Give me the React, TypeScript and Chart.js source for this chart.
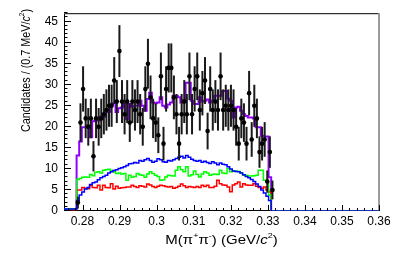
import { useEffect, useRef } from 'react';
import { Chart, registerables } from 'chart.js';

Chart.register(...registerables);

const FONT = "'Liberation Sans', Arial, Helvetica, sans-serif";

// Axis ranges and tick labels
const xMin = 0.275;
const xMax = 0.36;
const yMin = 0;
const yMax = 47;
const xTicks = [0.28, 0.29, 0.3, 0.31, 0.32, 0.33, 0.34, 0.35, 0.36];
const yTicks = [0, 5, 10, 15, 20, 25, 30, 35, 40, 45];

// Binning (0.7 MeV/c^2 bins)
const binLow = 0.2784;
const binWidth = 0.0007;

// Data: candidates per bin
const dataCounts = [
  2, 21, 29, 22, 20, 22, 13, 22, 20, 22,
  23, 24, 25, 25, 31, 26, 38, 26, 23, 26,
  21, 26, 24, 26, 23, 20, 29, 35, 27, 22,
  21, 18, 32, 16, 29, 34, 34, 27, 23, 16,
  23, 26, 23, 32, 23, 29, 32, 24, 28, 31,
  19, 29, 24, 26, 24, 32, 24, 25, 24, 25,
  24, 20, 16, 22, 21, 16, 28, 17, 25, 22,
  14, 16, 17, 7, 14, 5,
];

// Total fit (purple)
const totalFit = [
  0.5, 13.2, 16.5, 19.9, 19.9, 20.3, 17.5, 21.3, 21.8, 21.5,
  22.4, 22.4, 23.5, 23.6, 25.4, 25.6, 23.5, 24.4, 24.6, 25.4,
  21.8, 25.4, 24.8, 25.0, 25.0, 26.2, 25.0, 23.8, 26.6, 28.1,
  25.8, 25.6, 25.8, 27.0, 25.0, 24.6, 25.3, 25.8, 27.4, 27.4,
  27.0, 25.8, 26.3, 30.5, 30.5, 26.2, 25.4, 25.4, 27.0, 26.0,
  26.2, 26.5, 25.8, 26.2, 27.4, 27.4, 27.4, 28.5, 28.5, 26.7,
  26.2, 22.2, 24.6, 24.8, 23.8, 23.0, 22.6, 22.2, 22.2, 22.0,
  19.9, 19.9, 17.9, 17.7, 17.7, 8.0,
];

// Blue component
const blueComp = [
  0.5, 2.5, 3.8, 4.5, 5.2, 5.6, 6.3, 6.7, 6.9, 7.4,
  7.9, 8.2, 8.5, 9.0, 9.3, 9.6, 9.8, 10.1, 10.3, 10.5,
  10.8, 11.2, 11.3, 11.5, 11.4, 12.0, 11.8, 12.2, 12.5, 12.0,
  11.6, 11.8, 12.4, 12.2, 11.7, 11.6, 12.0, 11.9, 12.2, 12.5,
  12.8, 13.0, 12.6, 13.2, 12.8, 12.3, 12.0, 11.8, 12.0, 11.6,
  11.8, 11.5, 11.3, 11.7, 11.4, 11.0, 11.4, 11.1, 11.0, 10.5,
  10.0, 9.5, 9.4, 9.3, 9.0, 8.6, 8.2, 7.9, 7.5, 7.0,
  6.4, 5.8, 5.0, 4.3, 3.5, 2.5,
];

// Green component
const greenComp = [
  0.5, 7.5, 7.7, 8.0, 8.1, 8.0, 8.7, 8.4, 9.2, 9.3,
  9.0, 9.7, 9.8, 9.9, 9.6, 9.3, 8.9, 9.0, 8.8, 8.9,
  7.3, 8.5, 8.0, 8.2, 8.9, 8.6, 8.5, 8.0, 8.8, 9.3,
  8.9, 8.5, 8.2, 7.3, 7.4, 8.1, 8.5, 8.4, 8.3, 9.7,
  10.5, 9.8, 9.3, 10.5, 8.3, 8.6, 9.5, 8.7, 8.1, 8.8,
  9.3, 9.0, 8.5, 8.7, 8.8, 8.7, 9.7, 9.0, 8.9, 10.1,
  9.3, 9.5, 9.5, 9.4, 9.0, 8.5, 8.5, 8.3, 8.3, 8.4,
  8.5, 9.7, 9.7, 7.3, 6.9, 3.8,
];

// Red component
const redComp = [
  0.3, 5.0, 5.0, 5.6, 5.4, 5.3, 6.1, 5.6, 5.5, 6.1,
  5.0, 6.1, 5.6, 5.5, 6.5, 5.2, 5.9, 5.4, 5.5, 5.6,
  5.7, 5.7, 6.1, 5.8, 5.6, 6.0, 5.9, 5.7, 6.4, 6.2,
  5.8, 5.6, 5.9, 6.1, 6.0, 5.8, 5.7, 5.8, 5.4, 5.6,
  5.9, 6.4, 6.0, 5.6, 5.8, 5.7, 5.6, 5.8, 5.6, 6.1,
  5.8, 6.1, 5.6, 5.6, 5.9, 7.3, 6.5, 6.2, 6.1, 5.7,
  4.6, 6.2, 6.5, 6.9, 5.7, 6.5, 6.2, 6.1, 6.1, 6.5,
  5.9, 5.6, 5.4, 5.7, 5.0, 4.5,
];

const binCenter = (i: number) => binLow + (i + 0.5) * binWidth;

function histPoints(vals: number[]) {
  const pts: { x: number; y: number }[] = [{ x: xMin, y: 0 }];
  vals.forEach((v, i) => pts.push({ x: binLow + i * binWidth, y: v }));
  pts.push({ x: binLow + vals.length * binWidth, y: 0 });
  pts.push({ x: xMax, y: 0 });
  return pts;
}

type Piece = { t: string; s: 'n' | 'i' | 'sup' };

function drawRich(ctx: CanvasRenderingContext2D, pieces: Piece[], size: number, align: 'center' | 'left') {
  const fontFor = (s: Piece['s']) =>
    s === 'i' ? `italic ${size}px ${FONT}` : s === 'sup' ? `${Math.round(size * 0.62)}px ${FONT}` : `${size}px ${FONT}`;
  let total = 0;
  const widths = pieces.map((p) => {
    ctx.font = fontFor(p.s);
    const w = ctx.measureText(p.t).width;
    total += w;
    return w;
  });
  let x = align === 'center' ? -total / 2 : 0;
  ctx.textAlign = 'left';
  ctx.textBaseline = 'alphabetic';
  pieces.forEach((p, k) => {
    ctx.font = fontFor(p.s);
    ctx.fillText(p.t, x, p.s === 'sup' ? -size * 0.42 : 0);
    x += widths[k];
  });
}

const xTitle: Piece[] = [
  { t: 'M(π', s: 'n' },
  { t: '+', s: 'sup' },
  { t: 'π', s: 'n' },
  { t: '-', s: 'sup' },
  { t: ') (GeV/', s: 'n' },
  { t: 'c', s: 'i' },
  { t: '2', s: 'sup' },
  { t: ')', s: 'n' },
];

const yTitle: Piece[] = [
  { t: 'Candidates / (0.7 MeV/', s: 'n' },
  { t: 'c', s: 'i' },
  { t: '2', s: 'sup' },
  { t: ')', s: 'n' },
];

const rootStyle = {
  id: 'rootStyle',
  beforeDatasetsDraw(chart: any) {
    const { ctx, chartArea: a } = chart;
    ctx.save();
    ctx.strokeStyle = '#000';
    ctx.lineWidth = 1;
    ctx.beginPath();
    ctx.moveTo(a.left + 0.5, a.bottom);
    ctx.lineTo(a.left + 0.5, a.top + 0.5);
    ctx.lineTo(a.right, a.top + 0.5);
    ctx.moveTo(a.left, a.bottom - 0.5);
    ctx.lineTo(a.right, a.bottom - 0.5);
    ctx.stroke();
    ctx.strokeStyle = '#9a9a9a';
    ctx.lineWidth = 2;
    ctx.beginPath();
    ctx.moveTo(a.right, a.top);
    ctx.lineTo(a.right, a.bottom);
    ctx.stroke();
    ctx.restore();
  },
  beforeDatasetDraw(chart: any, args: any) {
    if (args.index !== 0) return;
    const { ctx, scales } = chart;
    const xs = scales.x;
    const ys = scales.y;
    ctx.save();
    ctx.strokeStyle = '#1a1a1a';
    ctx.lineWidth = 2;
    dataCounts.forEach((v, i) => {
      const e = Math.sqrt(v);
      const px = xs.getPixelForValue(binCenter(i));
      ctx.beginPath();
      ctx.moveTo(px, ys.getPixelForValue(Math.max(0, v - e)));
      ctx.lineTo(px, ys.getPixelForValue(v + e));
      ctx.stroke();
    });
    ctx.restore();
  },
  afterDraw(chart: any) {
    const { ctx, chartArea: a, scales } = chart;
    const xs = scales.x;
    const ys = scales.y;
    ctx.save();
    ctx.strokeStyle = '#000';
    ctx.lineWidth = 1;
    ctx.beginPath();
    // y ticks (inside, pointing right)
    for (let v = 0; v <= yMax + 1e-9; v += 1) {
      const major = yTicks.includes(v);
      const py = Math.round(ys.getPixelForValue(v)) - 0.5;
      ctx.moveTo(a.left, py);
      ctx.lineTo(a.left + (major ? 7 : 3.5), py);
    }
    // x ticks (inside, pointing up)
    for (let k = 138; k <= 180; k++) {
      const v = k * 0.002;
      if (v < xMin - 1e-9 || v > xMax + 1e-9) continue;
      const major = k % 5 === 0;
      const px = Math.round(xs.getPixelForValue(v)) + 0.5;
      ctx.moveTo(px, a.bottom);
      ctx.lineTo(px, a.bottom - (major ? 6 : 3));
    }
    ctx.stroke();

    ctx.fillStyle = '#000';
    // x title
    ctx.save();
    ctx.translate((a.left + a.right) / 2, 244);
    ctx.scale(1, 0.9);
    drawRich(ctx, xTitle, 15, 'center');
    ctx.restore();
    // y title
    ctx.save();
    ctx.translate(29.5, 132);
    ctx.rotate(-Math.PI / 2);
    ctx.scale(0.8, 1);
    drawRich(ctx, yTitle, 13.5, 'left');
    ctx.restore();
    ctx.restore();
  },
};

export default function App() {
  const ref = useRef<HTMLCanvasElement>(null);
  useEffect(() => {
    const histo = (label: string, vals: number[], color: string, width: number) => ({
      label,
      data: histPoints(vals),
      borderColor: color,
      backgroundColor: color,
      borderWidth: width,
      pointRadius: 0,
      stepped: 'after' as const,
      fill: false,
      tension: 0,
    });
    const chart = new Chart(ref.current as HTMLCanvasElement, {
      type: 'line',
      data: {
        datasets: [
          {
            label: 'Data',
            data: dataCounts.map((v, i) => ({ x: binCenter(i), y: v })),
            showLine: false,
            pointRadius: 2.3,
            pointBackgroundColor: '#000',
            pointBorderColor: '#000',
            pointBorderWidth: 0,
            borderColor: '#000',
            backgroundColor: '#000',
          } as any,
          histo('Blue', blueComp, '#0000ff', 1.5),
          histo('Green', greenComp, '#00ff00', 1.5),
          histo('Red', redComp, '#ff0000', 1.5),
          histo('Total', totalFit, '#9300ff', 2),
        ],
      },
      options: {
        responsive: false,
        animation: false,
        devicePixelRatio: 1,
        events: [],
        layout: { padding: { left: 0, right: 20, top: 12, bottom: 0 } },
        plugins: { legend: { display: false }, tooltip: { enabled: false }, title: { display: false } },
        scales: {
          x: {
            type: 'linear',
            min: xMin,
            max: xMax,
            grid: { display: false, drawTicks: false },
            border: { display: false },
            afterBuildTicks: (s: any) => {
              s.ticks = xTicks.map((v) => ({ value: v }));
            },
            afterFit: (s: any) => {
              s.height = 42;
            },
            ticks: {
              padding: 3,
              maxRotation: 0,
              autoSkip: false,
              color: '#000',
              font: { family: FONT, size: 12 },
              callback: (v: any) => String(+Number(v).toFixed(3)),
            },
          },
          y: {
            type: 'linear',
            min: yMin,
            max: yMax,
            grid: { display: false, drawTicks: false },
            border: { display: false },
            afterBuildTicks: (s: any) => {
              s.ticks = yTicks.map((v) => ({ value: v }));
            },
            afterFit: (s: any) => {
              s.width = 64;
            },
            ticks: {
              padding: 6,
              autoSkip: false,
              color: '#000',
              font: { family: FONT, size: 12 },
              callback: (v: any) => String(v),
            },
          },
        },
      },
      plugins: [rootStyle],
    });
    return () => chart.destroy();
  }, []);
  return (
    <div style={{ position: 'fixed', left: 0, top: 0, width: 399, height: 253, background: '#fff' }}>
      <canvas ref={ref} width={399} height={253} style={{ display: 'block', width: 399, height: 253 }} />
    </div>
  );
}
